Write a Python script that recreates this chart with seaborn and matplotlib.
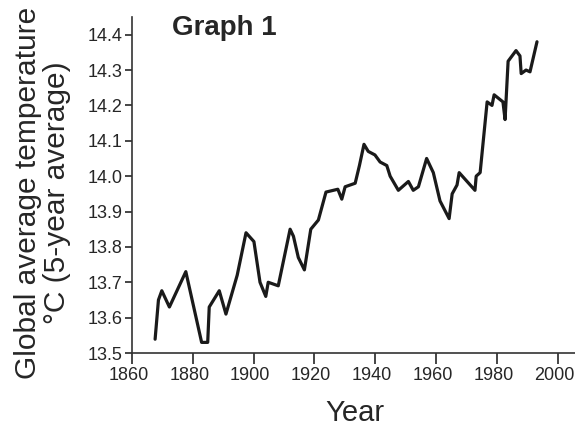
import numpy as np
import pandas as pd
import matplotlib
matplotlib.use("Agg")
import matplotlib.pyplot as plt
import matplotlib.transforms as mtransforms
import seaborn as sns

# values
years = [1867.6, 1868.7, 1869.8, 1872.3, 1877.7, 1882.9, 1884.9, 1885.4, 1888.7, 1890.9,
         1894.6, 1897.5, 1900.1, 1902.1, 1904.0, 1904.8, 1908.1, 1912.0, 1913.1, 1914.7,
         1916.7, 1918.8, 1921.3, 1923.8, 1927.7, 1929.0, 1930.1, 1933.4, 1934.8, 1936.3,
         1937.7, 1939.9, 1941.6, 1943.8, 1944.9, 1947.6, 1950.9, 1952.5, 1954.2, 1956.9,
         1959.1, 1961.3, 1964.3, 1965.3, 1966.9, 1967.6, 1972.8, 1973.2, 1974.5, 1976.8,
         1978.4, 1979.1, 1982.0, 1982.7, 1983.7, 1986.3, 1987.6, 1988.0, 1989.6, 1990.9,
         1993.2]
temps = [13.539, 13.65, 13.676, 13.63, 13.73, 13.53, 13.53, 13.63, 13.676, 13.61,
         13.72, 13.84, 13.815, 13.70, 13.66, 13.70, 13.69, 13.85, 13.83, 13.77,
         13.735, 13.85, 13.876, 13.955, 13.963, 13.935, 13.97, 13.98, 14.03, 14.09,
         14.07, 14.06, 14.04, 14.03, 14.00, 13.96, 13.985, 13.96, 13.97, 14.05,
         14.01, 13.93, 13.88, 13.95, 13.975, 14.01, 13.96, 14.00, 14.01, 14.21,
         14.20, 14.23, 14.21, 14.16, 14.325, 14.355, 14.34, 14.29, 14.30, 14.295,
         14.38]

xticks = [1860, 1880, 1900, 1920, 1940, 1960, 1980, 2000]
yticks = [13.5, 13.6, 13.7, 13.8, 13.9, 14.0, 14.1, 14.2, 14.3, 14.4]

df = pd.DataFrame({"Year": years, "Temp": temps})

sns.set_style("ticks")
plt.rcParams["font.family"] = ["Liberation Sans", "DejaVu Sans"]
txt = "#262626"
axc = "#333333"

fig = plt.figure(figsize=(5.75, 4.28), dpi=100)
ax = fig.add_axes([132 / 575, 1 - 353 / 428, 443 / 575, 336 / 428])

sns.lineplot(data=df, x="Year", y="Temp", ax=ax, color="#1a1a1a", linewidth=2.3,
             sort=False, estimator=None)

ax.set_xlim(1860, 2005.7)
ax.set_ylim(13.5, 14.45)
ax.set_xticks(xticks)
ax.set_yticks(yticks)
ax.set_yticklabels([f"{v:.1f}" for v in yticks])

sns.despine(ax=ax)
for s in ["left", "bottom"]:
    ax.spines[s].set_linewidth(1.2)
    ax.spines[s].set_color(axc)

ax.tick_params(axis="x", length=8, width=1.2, pad=2, labelsize=13, colors=txt)
ax.tick_params(axis="y", length=5, width=1.2, pad=2, labelsize=13, colors=txt)
for t in ax.get_xticklines() + ax.get_yticklines():
    t.set_color(axc)

# nudge x tick labels a little to the left, like the original
shift = mtransforms.ScaledTranslation(-3.5 / 100, 0, fig.dpi_scale_trans)
for lab in ax.get_xticklabels():
    lab.set_transform(lab.get_transform() + shift)

ax.set_xlabel("Year", fontsize=21, color=txt)
ax.xaxis.set_label_coords(0.503, -0.138)
ax.set_ylabel("Global average temperature\n°C (5-year average)", fontsize=21.5,
              color=txt, linespacing=1.05)
ax.yaxis.set_label_coords(-0.138, 0.478)

ax.text(0.09, 0.946, "Graph 1", transform=ax.transAxes, fontsize=20,
        fontweight="bold", color=txt, va="baseline", ha="left")

fig.savefig("out.png", dpi=100, facecolor="white")
